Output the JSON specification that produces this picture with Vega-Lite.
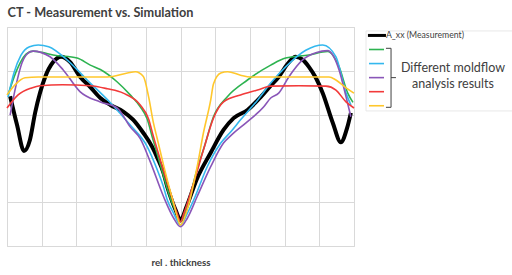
{
  "$schema": "https://vega.github.io/schema/vega-lite/v6.json",
  "background": "white",
  "padding": {"left": 1, "top": 6, "right": 0, "bottom": 0},
  "title": {"text": "CT - Measurement vs. Simulation", "anchor": "start", "font": "Lato", "fontSize": 12.7, "fontWeight": "bold", "color": "#404040", "offset": 7, "dx": 6},
  "config": {"view": {"stroke": "#d9d9d9"}},
  "spacing": 5,
  "resolve": {"scale": {"x": "independent", "y": "independent", "color": "shared"}},
  "datasets": {
    "curves": [
      {"s":"A_xx (Measurement)","x":0.09,"y":3.42},{"s":"A_xx (Measurement)","x":0.29,"y":2.76},{"s":"A_xx (Measurement)","x":0.49,"y":2.17},{"s":"A_xx (Measurement)","x":0.66,"y":2.42},{"s":"A_xx (Measurement)","x":0.81,"y":3.04},{"s":"A_xx (Measurement)","x":1.10,"y":3.86},{"s":"A_xx (Measurement)","x":1.33,"y":4.20},{"s":"A_xx (Measurement)","x":1.56,"y":4.32},{"s":"A_xx (Measurement)","x":1.82,"y":4.20},{"s":"A_xx (Measurement)","x":2.11,"y":3.86},{"s":"A_xx (Measurement)","x":2.40,"y":3.63},{"s":"A_xx (Measurement)","x":2.69,"y":3.38},{"s":"A_xx (Measurement)","x":2.98,"y":3.22},{"s":"A_xx (Measurement)","x":3.35,"y":3.07},{"s":"A_xx (Measurement)","x":3.64,"y":2.88},{"s":"A_xx (Measurement)","x":3.93,"y":2.58},{"s":"A_xx (Measurement)","x":4.18,"y":2.27},{"s":"A_xx (Measurement)","x":4.34,"y":2.00},{"s":"A_xx (Measurement)","x":4.51,"y":1.67},{"s":"A_xx (Measurement)","x":4.62,"y":1.35},{"s":"A_xx (Measurement)","x":4.76,"y":1.02},{"s":"A_xx (Measurement)","x":4.86,"y":0.82},{"s":"A_xx (Measurement)","x":5.00,"y":0.59},{"s":"A_xx (Measurement)","x":5.17,"y":0.89},{"s":"A_xx (Measurement)","x":5.46,"y":1.51},{"s":"A_xx (Measurement)","x":5.87,"y":2.13},{"s":"A_xx (Measurement)","x":6.24,"y":2.65},{"s":"A_xx (Measurement)","x":6.53,"y":2.92},{"s":"A_xx (Measurement)","x":6.94,"y":3.11},{"s":"A_xx (Measurement)","x":7.31,"y":3.40},{"s":"A_xx (Measurement)","x":7.60,"y":3.66},{"s":"A_xx (Measurement)","x":7.83,"y":3.86},{"s":"A_xx (Measurement)","x":8.09,"y":4.16},{"s":"A_xx (Measurement)","x":8.32,"y":4.32},{"s":"A_xx (Measurement)","x":8.53,"y":4.25},{"s":"A_xx (Measurement)","x":8.70,"y":4.09},{"s":"A_xx (Measurement)","x":8.90,"y":3.84},{"s":"A_xx (Measurement)","x":9.10,"y":3.49},{"s":"A_xx (Measurement)","x":9.39,"y":2.81},{"s":"A_xx (Measurement)","x":9.62,"y":2.37},{"s":"A_xx (Measurement)","x":9.80,"y":2.69},{"s":"A_xx (Measurement)","x":9.91,"y":3.04},
      {"s":"Simulation 1","x":0.03,"y":3.45},{"s":"Simulation 1","x":0.20,"y":3.85},{"s":"Simulation 1","x":0.38,"y":4.18},{"s":"Simulation 1","x":0.55,"y":4.38},{"s":"Simulation 1","x":0.75,"y":4.45},{"s":"Simulation 1","x":1.00,"y":4.42},{"s":"Simulation 1","x":1.33,"y":4.36},{"s":"Simulation 1","x":2.02,"y":4.29},{"s":"Simulation 1","x":2.40,"y":4.13},{"s":"Simulation 1","x":2.69,"y":4.03},{"s":"Simulation 1","x":3.17,"y":3.75},{"s":"Simulation 1","x":3.55,"y":3.45},{"s":"Simulation 1","x":3.84,"y":3.18},{"s":"Simulation 1","x":4.04,"y":2.90},{"s":"Simulation 1","x":4.20,"y":2.45},{"s":"Simulation 1","x":4.33,"y":2.10},{"s":"Simulation 1","x":4.51,"y":1.60},{"s":"Simulation 1","x":4.71,"y":1.08},{"s":"Simulation 1","x":4.86,"y":0.80},{"s":"Simulation 1","x":5.00,"y":0.55},{"s":"Simulation 1","x":5.20,"y":0.95},{"s":"Simulation 1","x":5.48,"y":1.75},{"s":"Simulation 1","x":5.70,"y":2.30},{"s":"Simulation 1","x":5.95,"y":2.95},{"s":"Simulation 1","x":6.35,"y":3.41},{"s":"Simulation 1","x":6.93,"y":3.79},{"s":"Simulation 1","x":7.60,"y":4.13},{"s":"Simulation 1","x":8.03,"y":4.29},{"s":"Simulation 1","x":8.70,"y":4.36},{"s":"Simulation 1","x":9.24,"y":4.44},{"s":"Simulation 1","x":9.57,"y":4.09},{"s":"Simulation 1","x":9.82,"y":3.49},{"s":"Simulation 1","x":9.97,"y":3.28},
      {"s":"Simulation 2","x":0.03,"y":3.40},{"s":"Simulation 2","x":0.20,"y":3.95},{"s":"Simulation 2","x":0.40,"y":4.35},{"s":"Simulation 2","x":0.65,"y":4.55},{"s":"Simulation 2","x":0.90,"y":4.59},{"s":"Simulation 2","x":1.20,"y":4.55},{"s":"Simulation 2","x":1.73,"y":4.25},{"s":"Simulation 2","x":2.31,"y":3.79},{"s":"Simulation 2","x":2.98,"y":3.27},{"s":"Simulation 2","x":3.55,"y":2.76},{"s":"Simulation 2","x":4.04,"y":2.27},{"s":"Simulation 2","x":4.33,"y":1.74},{"s":"Simulation 2","x":4.51,"y":1.35},{"s":"Simulation 2","x":4.62,"y":1.05},{"s":"Simulation 2","x":4.80,"y":0.75},{"s":"Simulation 2","x":5.00,"y":0.48},{"s":"Simulation 2","x":5.20,"y":0.75},{"s":"Simulation 2","x":5.38,"y":1.05},{"s":"Simulation 2","x":5.77,"y":1.81},{"s":"Simulation 2","x":6.16,"y":2.35},{"s":"Simulation 2","x":6.45,"y":2.61},{"s":"Simulation 2","x":6.73,"y":2.88},{"s":"Simulation 2","x":7.22,"y":3.33},{"s":"Simulation 2","x":7.60,"y":3.72},{"s":"Simulation 2","x":8.03,"y":4.09},{"s":"Simulation 2","x":8.61,"y":4.47},{"s":"Simulation 2","x":9.10,"y":4.59},{"s":"Simulation 2","x":9.48,"y":4.32},{"s":"Simulation 2","x":9.77,"y":3.49},{"s":"Simulation 2","x":9.91,"y":3.22},
      {"s":"Simulation 3","x":0.09,"y":2.99},{"s":"Simulation 3","x":0.23,"y":3.56},{"s":"Simulation 3","x":0.43,"y":4.18},{"s":"Simulation 3","x":0.60,"y":4.40},{"s":"Simulation 3","x":0.75,"y":4.45},{"s":"Simulation 3","x":1.24,"y":4.32},{"s":"Simulation 3","x":1.62,"y":4.02},{"s":"Simulation 3","x":2.11,"y":3.52},{"s":"Simulation 3","x":2.69,"y":3.29},{"s":"Simulation 3","x":3.18,"y":3.15},{"s":"Simulation 3","x":3.55,"y":2.72},{"s":"Simulation 3","x":3.84,"y":2.45},{"s":"Simulation 3","x":4.13,"y":1.92},{"s":"Simulation 3","x":4.51,"y":1.13},{"s":"Simulation 3","x":4.80,"y":0.64},{"s":"Simulation 3","x":5.00,"y":0.44},{"s":"Simulation 3","x":5.20,"y":0.64},{"s":"Simulation 3","x":5.48,"y":1.13},{"s":"Simulation 3","x":5.87,"y":1.81},{"s":"Simulation 3","x":6.24,"y":2.35},{"s":"Simulation 3","x":6.45,"y":2.52},{"s":"Simulation 3","x":6.93,"y":2.84},{"s":"Simulation 3","x":7.40,"y":3.18},{"s":"Simulation 3","x":7.60,"y":3.38},{"s":"Simulation 3","x":7.83,"y":3.49},{"s":"Simulation 3","x":8.12,"y":3.86},{"s":"Simulation 3","x":8.52,"y":4.25},{"s":"Simulation 3","x":8.90,"y":4.41},{"s":"Simulation 3","x":9.24,"y":4.46},{"s":"Simulation 3","x":9.57,"y":4.02},{"s":"Simulation 3","x":9.77,"y":3.41},{"s":"Simulation 3","x":9.91,"y":2.95},
      {"s":"Simulation 4","x":0.00,"y":3.15},{"s":"Simulation 4","x":0.32,"y":3.45},{"s":"Simulation 4","x":0.71,"y":3.61},{"s":"Simulation 4","x":0.95,"y":3.66},{"s":"Simulation 4","x":1.60,"y":3.68},{"s":"Simulation 4","x":2.40,"y":3.66},{"s":"Simulation 4","x":2.89,"y":3.59},{"s":"Simulation 4","x":3.35,"y":3.49},{"s":"Simulation 4","x":3.84,"y":3.22},{"s":"Simulation 4","x":4.08,"y":2.90},{"s":"Simulation 4","x":4.22,"y":2.50},{"s":"Simulation 4","x":4.42,"y":1.96},{"s":"Simulation 4","x":4.71,"y":1.21},{"s":"Simulation 4","x":4.90,"y":0.75},{"s":"Simulation 4","x":5.00,"y":0.55},{"s":"Simulation 4","x":5.10,"y":0.75},{"s":"Simulation 4","x":5.38,"y":1.44},{"s":"Simulation 4","x":5.66,"y":2.19},{"s":"Simulation 4","x":5.95,"y":2.92},{"s":"Simulation 4","x":6.24,"y":3.29},{"s":"Simulation 4","x":6.73,"y":3.45},{"s":"Simulation 4","x":7.22,"y":3.56},{"s":"Simulation 4","x":7.60,"y":3.65},{"s":"Simulation 4","x":8.41,"y":3.66},{"s":"Simulation 4","x":9.19,"y":3.65},{"s":"Simulation 4","x":9.48,"y":3.56},{"s":"Simulation 4","x":9.77,"y":3.29},{"s":"Simulation 4","x":10.0,"y":3.15},
      {"s":"Simulation 5","x":0.00,"y":3.45},{"s":"Simulation 5","x":0.23,"y":3.68},{"s":"Simulation 5","x":0.52,"y":3.84},{"s":"Simulation 5","x":0.90,"y":3.86},{"s":"Simulation 5","x":2.00,"y":3.86},{"s":"Simulation 5","x":2.89,"y":3.86},{"s":"Simulation 5","x":3.47,"y":3.95},{"s":"Simulation 5","x":3.70,"y":3.98},{"s":"Simulation 5","x":3.93,"y":3.87},{"s":"Simulation 5","x":4.08,"y":3.41},{"s":"Simulation 5","x":4.22,"y":2.81},{"s":"Simulation 5","x":4.33,"y":2.45},{"s":"Simulation 5","x":4.51,"y":1.85},{"s":"Simulation 5","x":4.62,"y":1.50},{"s":"Simulation 5","x":4.80,"y":0.98},{"s":"Simulation 5","x":4.91,"y":0.65},{"s":"Simulation 5","x":5.00,"y":0.48},{"s":"Simulation 5","x":5.19,"y":0.82},{"s":"Simulation 5","x":5.48,"y":1.81},{"s":"Simulation 5","x":5.66,"y":2.58},{"s":"Simulation 5","x":5.87,"y":3.33},{"s":"Simulation 5","x":5.95,"y":3.70},{"s":"Simulation 5","x":6.16,"y":3.95},{"s":"Simulation 5","x":6.36,"y":3.98},{"s":"Simulation 5","x":6.73,"y":3.90},{"s":"Simulation 5","x":7.02,"y":3.86},{"s":"Simulation 5","x":8.41,"y":3.86},{"s":"Simulation 5","x":9.28,"y":3.86},{"s":"Simulation 5","x":9.48,"y":3.79},{"s":"Simulation 5","x":9.77,"y":3.61},{"s":"Simulation 5","x":10.0,"y":3.49}
    ],
    "legend": [
      {"s":"A_xx (Measurement)","row":0},
      {"s":"Simulation 1","row":1},
      {"s":"Simulation 2","row":2},
      {"s":"Simulation 3","row":3},
      {"s":"Simulation 4","row":4},
      {"s":"Simulation 5","row":5}
    ]
  },
  "hconcat": [
    {
      "width": 347,
      "height": 219,
      "data": {"name": "curves"},
      "encoding": {
        "x": {"field": "x", "type": "quantitative", "scale": {"domain": [0, 10], "nice": false, "zero": false},
              "axis": {"values": [0,1,2,3,4,5,6,7,8,9,10], "labels": false, "ticks": false, "tickSize": 0, "labelPadding": 0, "domain": false, "grid": true, "gridColor": "#d9d9d9", "gridWidth": 1, "title": "rel . thickness", "titleFont": "Lato", "titleFontSize": 9.8, "titleFontWeight": "bold", "titleColor": "#404040", "titlePadding": 11, "minExtent": 0}},
        "y": {"field": "y", "type": "quantitative", "scale": {"domain": [0, 5], "nice": false, "zero": false},
              "axis": {"values": [0,1,2,3,4,5], "labels": false, "ticks": false, "tickSize": 0, "labelPadding": 0, "domain": false, "grid": true, "gridColor": "#d9d9d9", "gridWidth": 1, "title": null, "minExtent": 0, "maxExtent": 0}}
      },
      "layer": [
        {
          "transform": [{"filter": "datum.s === 'A_xx (Measurement)'"}],
          "mark": {"type": "line", "interpolate": "monotone", "strokeWidth": 4, "color": "#000000"}
        },
        {
          "transform": [{"filter": "datum.s !== 'A_xx (Measurement)'"}],
          "mark": {"type": "line", "interpolate": "monotone", "strokeWidth": 1.6},
          "encoding": {
            "color": {"field": "s", "type": "nominal", "legend": null,
                      "scale": {"domain": ["A_xx (Measurement)","Simulation 1","Simulation 2","Simulation 3","Simulation 4","Simulation 5"],
                                "range": ["#000000","#2db350","#33b8ee","#8a56b8","#f23a3a","#ffc72c"]}}
          }
        }
      ]
    },
    {
      "width": 149,
      "height": 90,
      "view": {"stroke": null},
      "data": {"name": "legend"},
      "layer": [
        {
          "data": {"values": [{}]},
          "mark": {"type": "rect", "fill": "white", "stroke": "#e8e8e8", "strokeWidth": 1},
          "encoding": {
            "x": {"datum": 0, "type": "quantitative", "scale": {"domain": [0, 10], "nice": false, "zero": false}, "axis": null},
            "x2": {"datum": 10},
            "y": {"datum": -0.32, "type": "quantitative", "scale": {"domain": [-0.6, 5.8], "nice": false, "zero": false, "reverse": true}, "axis": null},
            "y2": {"datum": 5.37}
          }
        },
        {
          "transform": [{"filter": "datum.row === 0"}],
          "mark": {"type": "rule", "strokeWidth": 3, "color": "#000000"},
          "encoding": {
            "x": {"datum": 0.13, "type": "quantitative"},
            "x2": {"datum": 1.34},
            "y": {"field": "row", "type": "quantitative"}
          }
        },
        {
          "transform": [{"filter": "datum.row > 0"}],
          "mark": {"type": "rule", "strokeWidth": 1.6},
          "encoding": {
            "x": {"datum": 0.2, "type": "quantitative"},
            "x2": {"datum": 1.21},
            "y": {"field": "row", "type": "quantitative"},
            "color": {"field": "s", "type": "nominal", "legend": null,
                      "scale": {"domain": ["A_xx (Measurement)","Simulation 1","Simulation 2","Simulation 3","Simulation 4","Simulation 5"],
                                "range": ["#000000","#2db350","#33b8ee","#8a56b8","#f23a3a","#ffc72c"]}}
          }
        },
        {
          "transform": [{"filter": "datum.row === 0"}],
          "mark": {"type": "text", "align": "left", "baseline": "middle", "font": "Lato", "fontSize": 8.7, "color": "#404040"},
          "encoding": {
            "x": {"datum": 1.34, "type": "quantitative"},
            "y": {"field": "row", "type": "quantitative"},
            "text": {"field": "s"}
          }
        },
        {
          "data": {"values": [{}]},
          "mark": {"type": "rule", "strokeWidth": 1, "color": "#404040"},
          "encoding": {"x": {"datum": 1.68, "type": "quantitative"}, "y": {"datum": 0.915, "type": "quantitative"}, "y2": {"datum": 5.11}}
        },
        {
          "data": {"values": [{}]},
          "mark": {"type": "rule", "strokeWidth": 1, "color": "#404040"},
          "encoding": {"x": {"datum": 1.34, "type": "quantitative"}, "x2": {"datum": 1.68}, "y": {"datum": 0.915, "type": "quantitative"}}
        },
        {
          "data": {"values": [{}]},
          "mark": {"type": "rule", "strokeWidth": 1, "color": "#404040"},
          "encoding": {"x": {"datum": 1.34, "type": "quantitative"}, "x2": {"datum": 1.68}, "y": {"datum": 5.11, "type": "quantitative"}}
        },
        {
          "data": {"values": [{}]},
          "mark": {"type": "rule", "strokeWidth": 1, "color": "#404040"},
          "encoding": {"x": {"datum": 1.68, "type": "quantitative"}, "x2": {"datum": 2.01}, "y": {"datum": 3.0, "type": "quantitative"}}
        },
        {
          "data": {"values": [{}]},
          "mark": {"type": "text", "align": "center", "baseline": "middle", "font": "Lato", "fontSize": 12.5, "color": "#404040"},
          "encoding": {"x": {"datum": 5.84, "type": "quantitative"}, "y": {"datum": 2.34, "type": "quantitative"}, "text": {"value": "Different moldflow"}}
        },
        {
          "data": {"values": [{}]},
          "mark": {"type": "text", "align": "center", "baseline": "middle", "font": "Lato", "fontSize": 12.5, "color": "#404040"},
          "encoding": {"x": {"datum": 5.84, "type": "quantitative"}, "y": {"datum": 3.42, "type": "quantitative"}, "text": {"value": "analysis results"}}
        }
      ]
    }
  ]
}
